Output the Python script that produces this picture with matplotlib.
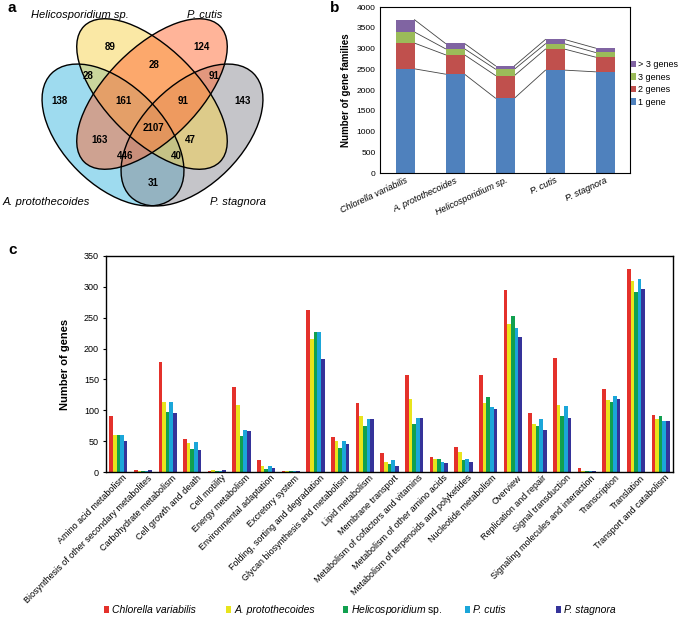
import numpy as np
import matplotlib.pyplot as plt
from matplotlib.patches import Ellipse
from matplotlib.colors import to_rgba
import matplotlib.transforms as mtransforms

plt.rcParams['font.family'] = ['Liberation Sans', 'DejaVu Sans']
plt.rcParams['mathtext.fontset'] = 'custom'
plt.rcParams['mathtext.it'] = 'Liberation Sans:italic'
plt.rcParams['mathtext.rm'] = 'Liberation Sans'

# ---------------- data ----------------
# panel a: Venn of gene families (A=A. protothecoides, H=Helicosporidium, C=P. cutis, S=P. stagnora)
venn_names = ['A. protothecoides', 'Helicosporidium sp.', 'P. cutis', 'P. stagnora']
venn_regions = ['H', 'C', 'HC', 'AH', 'CS', 'A', 'AHC', 'HCS', 'S', 'AHCS', 'AC', 'HS', 'ACS', 'AHS', 'AS']
venn_counts = [89, 124, 28, 28, 91, 138, 161, 91, 143, 2107, 163, 47, 446, 40, 31]

# panel b: gene family size classes
species = ['Chlorella variabilis', 'A. protothecoides', 'Helicosporidium sp.', 'P. cutis', 'P. stagnora']
fam_labels = ['1 gene', '2 genes', '3 genes', '> 3 genes']
fam_1 = [2510, 2382, 1803, 2479, 2438]
fam_2 = [620, 466, 546, 507, 354]
fam_3 = [266, 145, 154, 128, 112]
fam_4 = [297, 128, 80, 104, 106]

# panel c: KEGG categories
kegg_cats = ['Amino acid metabolism', 'Biosynthesis of other secondary metabolites',
             'Carbohydrate metabolism', 'Cell growth and death', 'Cell motility',
             'Energy metabolism', 'Environmental adaptation', 'Excretory system',
             'Folding, sorting and degradation', 'Glycan biosynthesis and metabolism',
             'Lipid metabolism', 'Membrane transport', 'Metabolism of cofactors and vitamins',
             'Metabolism of other amino acids', 'Metabolism of terpenoids and polyketides',
             'Nucleotide metabolism', 'Overview', 'Replication and repair',
             'Signal transduction', 'Signaling molecules and interaction', 'Transcription',
             'Translation', 'Transport and catabolism']
chlorella = [91, 4, 178, 54, 2, 138, 20, 2, 262, 56, 111, 30, 157, 24, 41, 157, 295, 95, 185, 7, 135, 329, 92]
a_proto = [60, 2, 114, 47, 3, 108, 9, 2, 215, 51, 90, 16, 118, 21, 32, 111, 240, 78, 108, 2, 116, 309, 86]
helico = [60, 1, 98, 38, 2, 59, 5, 2, 227, 39, 74, 13, 77, 21, 20, 121, 253, 74, 90, 1, 113, 291, 90]
p_cutis = [60, 2, 114, 49, 2, 68, 9, 2, 227, 51, 86, 20, 87, 17, 21, 105, 234, 86, 107, 2, 123, 312, 82]
p_stag = [51, 4, 95, 35, 4, 66, 7, 2, 183, 46, 86, 10, 87, 15, 17, 102, 219, 68, 87, 2, 118, 296, 82]

# ---------------- figure ----------------
fig = plt.figure(figsize=(6.85, 6.27), dpi=100)
W, H = 685.0, 627.0

def box(x0, y0, x1, y1):
    return [x0 / W, 1 - y1 / H, (x1 - x0) / W, (y1 - y0) / H]

# ---- panel a ----
ax_v = fig.add_axes(box(0, 0, 290, 215))
ax_v.set_xlim(0, 290)
ax_v.set_ylim(215, 0)
ax_v.axis('off')

ellipses = [  # (center, a, b, angle, colour) in pixel units
    ((113, 135), 87, 50, 45, '#3fb8e0'),
    ((192, 135), 87, 50, -45, '#8c8c94'),
    ((152, 94), 96, 46, 45, '#f6d24c'),
    ((152, 94), 96, 46, -45, '#ff6a35'),
]
for c, a, b, ang, col in ellipses:
    ax_v.add_patch(Ellipse(c, 2 * a, 2 * b, angle=ang, facecolor=to_rgba(col, 0.5), edgecolor='none'))
for c, a, b, ang, col in ellipses:
    ax_v.add_patch(Ellipse(c, 2 * a, 2 * b, angle=ang, facecolor='none', edgecolor='black', lw=1.0))

region_pos = {'H': (110, 47), 'C': (202, 47), 'HC': (154, 65), 'AH': (88, 76), 'CS': (214, 76),
              'A': (59, 101), 'AHC': (123, 101), 'HCS': (183, 101), 'S': (243, 101),
              'AHCS': (153, 128), 'AC': (100, 140), 'HS': (190, 140), 'ACS': (125, 156),
              'AHS': (176, 156), 'AS': (153, 183)}
for r, n in zip(venn_regions, venn_counts):
    x, y = region_pos[r]
    ax_v.text(x, y, str(n), ha='center', va='center', fontsize=7, fontweight='bold')

ax_v.text(80, 15, venn_names[1], ha='center', va='center', fontsize=8, style='italic')
ax_v.text(205, 15, venn_names[2], ha='center', va='center', fontsize=8, style='italic')
ax_v.text(46, 202, venn_names[0], ha='center', va='center', fontsize=8, style='italic')
ax_v.text(238, 202, venn_names[3], ha='center', va='center', fontsize=8, style='italic')

# ---- panel b ----
ax_b = fig.add_axes(box(380, 7, 630, 173))
xb = np.arange(len(species))
wb = 0.38
fam_cols = ['#4f81bd', '#c0504d', '#9bbb59', '#8064a2']
bottom = np.zeros(len(species))
for vals, lab, col in zip([fam_1, fam_2, fam_3, fam_4], fam_labels, fam_cols):
    ax_b.bar(xb, vals, wb, bottom=bottom, color=col, label=lab, zorder=2)
    bottom = bottom + np.array(vals)
    for i in range(len(species) - 1):
        ax_b.plot([xb[i] + wb / 2, xb[i + 1] - wb / 2], [bottom[i], bottom[i + 1]],
                  color='#444444', lw=0.6, zorder=1)
ax_b.set_xlim(-0.5, len(species) - 0.5)
ax_b.set_ylim(0, 4000)
ax_b.set_yticks(np.arange(0, 4001, 500))
ax_b.tick_params(axis='y', labelsize=6, length=0, pad=3)
ax_b.tick_params(axis='x', length=0, pad=2)
ax_b.set_xticks(xb)
ax_b.set_xticklabels(species, rotation=25, ha='right', rotation_mode='anchor',
                     fontsize=6.5, style='italic')
ax_b.set_ylabel('Number of gene families', fontsize=7, fontweight='bold', labelpad=4)
for s in ax_b.spines.values():
    s.set_linewidth(0.8)
h, l = ax_b.get_legend_handles_labels()
ax_b.legend(h[::-1], l[::-1], loc='center left', bbox_to_anchor=(1.0, 0.54), frameon=False,
            fontsize=6.5, handlelength=0.6, handleheight=0.7, handletextpad=0.2,
            labelspacing=0.4, borderaxespad=0.1, borderpad=0)

# ---- panel c ----
ax_c = fig.add_axes(box(106, 256, 673, 472))
xc = np.arange(len(kegg_cats))
wc = 0.148
series = [chlorella, a_proto, helico, p_cutis, p_stag]
ser_cols = ['#e4312b', '#e8e41c', '#11a04f', '#1ba6d9', '#35339a']
ser_labels = ['Chlorella variabilis', 'A. protothecoides',
              r'$\it{Helicosporidium}$ sp.', 'P. cutis', 'P. stagnora']
bars = []
for k, (vals, col) in enumerate(zip(series, ser_cols)):
    bars.append(ax_c.bar(xc + (k - 2) * wc, vals, wc, color=col, zorder=2))
ax_c.set_xlim(-0.5, len(kegg_cats) - 0.5)
ax_c.set_ylim(0, 350)
ax_c.set_yticks(np.arange(0, 351, 50))
ax_c.tick_params(axis='y', labelsize=6.5, length=2, width=0.8, pad=3)
ax_c.tick_params(axis='x', length=0, pad=1)
ax_c.set_xticks(xc)
offset = mtransforms.ScaledTranslation(4 / 100, 0, fig.dpi_scale_trans)
ax_c.set_xticklabels(kegg_cats, rotation=45, ha='right', rotation_mode='anchor', fontsize=6.5)
for t in ax_c.get_xticklabels():
    t.set_transform(t.get_transform() + offset)
ax_c.set_ylabel('Number of genes', fontsize=8, fontweight='bold', labelpad=10)
for s in ax_c.spines.values():
    s.set_linewidth(1.0)

leg_x = [104, 226, 343, 465, 556]
for b, lab, lx in zip(bars, ser_labels, leg_x):
    leg = fig.legend([b], [lab], loc='center left', bbox_to_anchor=(lx / W, 1 - 610 / H), frameon=False,
                     fontsize=7.5, handlelength=0.5, handleheight=0.6, handletextpad=0.3,
                     borderpad=0, borderaxespad=0)
    if '$' not in lab:
        for t in leg.get_texts():
            t.set_style('italic')

# panel letters
fig.text(8 / W, 1 - 8 / H, 'a', fontsize=11, fontweight='bold', ha='left', va='center')
fig.text(330 / W, 1 - 8 / H, 'b', fontsize=11, fontweight='bold', ha='left', va='center')
fig.text(8 / W, 1 - 250 / H, 'c', fontsize=11, fontweight='bold', ha='left', va='center')

fig.savefig('out.png', dpi=100)
